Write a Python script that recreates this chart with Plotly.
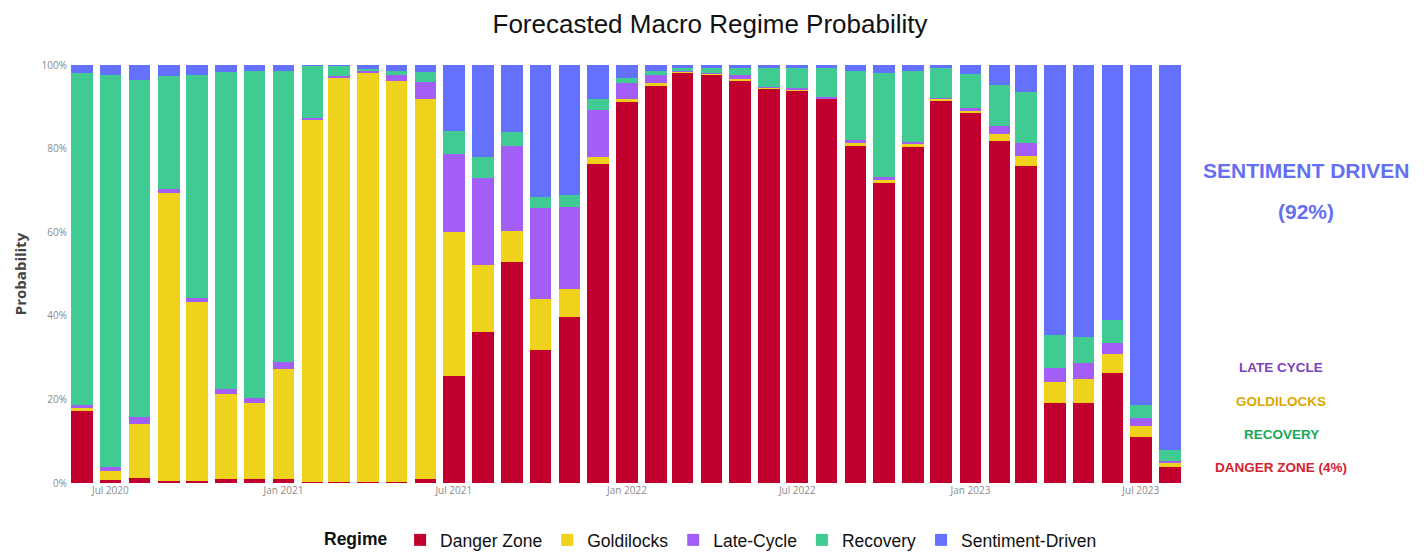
import plotly.graph_objects as go
import pandas as pd

months = pd.date_range("2020-06-01", "2023-08-01", freq="MS").strftime("%Y-%m-%d").tolist()

danger_zone = [17.2, 0.7, 1.3, 0.5, 0.5, 1.0, 1.0, 1.0, 0.2, 0.2, 0.2, 0.3, 1.0,
               25.7, 36.2, 52.9, 31.8, 39.6, 76.3, 91.1, 95.0, 98.2, 97.8, 96.4, 94.4,
               94.0, 91.9, 80.7, 71.8, 80.5, 91.6, 88.4, 81.9, 75.9, 19.2, 19.1, 26.2, 11.1, 3.9]
goldilocks = [0.8, 2.2, 12.7, 68.8, 42.7, 20.2, 18.1, 26.2, 86.6, 96.6, 98.0, 95.9, 90.8,
              34.4, 16.0, 7.4, 12.2, 6.7, 1.8, 0.8, 0.6, 0.2, 0.2, 0.2, 0.2,
              0.2, 0.2, 0.6, 0.7, 0.5, 0.4, 0.6, 1.6, 2.3, 4.9, 5.9, 4.6, 2.6, 1.0]
late_cycle = [0.6, 1.0, 1.9, 1.0, 1.0, 1.4, 1.3, 1.7, 0.6, 0.6, 0.3, 1.4, 4.2,
              18.5, 20.7, 20.4, 21.7, 19.7, 11.1, 3.7, 2.0, 0.2, 0.2, 1.0, 0.2,
              0.2, 0.2, 0.8, 0.8, 0.5, 0.2, 0.6, 1.9, 3.2, 3.3, 3.6, 2.8, 1.8, 0.4]
recovery = [79.6, 93.7, 80.5, 27.1, 53.4, 75.7, 78.1, 69.7, 12.4, 2.4, 0.5, 1.0, 2.4,
            5.5, 5.0, 3.2, 2.8, 2.9, 2.6, 1.2, 1.0, 0.6, 1.0, 1.6, 4.6,
            4.8, 7.1, 16.5, 24.9, 17.1, 7.0, 8.2, 9.8, 12.2, 8.0, 6.3, 5.4, 3.2, 2.6]
sentiment_driven = [1.8, 2.4, 3.6, 2.6, 2.4, 1.7, 1.5, 1.4, 0.2, 0.2, 1.0, 1.4, 1.6,
                    15.9, 22.1, 16.1, 31.5, 31.1, 8.2, 3.2, 1.4, 0.8, 0.8, 0.8, 0.6,
                    0.8, 0.6, 1.4, 1.8, 1.4, 0.8, 2.2, 4.8, 6.4, 64.6, 65.1, 61.0, 81.3, 92.1]

series = [
    ("Danger Zone", danger_zone, "#C2002F"),
    ("Goldilocks", goldilocks, "#EFD21B"),
    ("Late-Cycle", late_cycle, "#A45EF8"),
    ("Recovery", recovery, "#3FCB91"),
    ("Sentiment-Driven", sentiment_driven, "#6470FE"),
]

DAY_MS = 86400000
fig = go.Figure()
for name, vals, col in series:
    fig.add_trace(go.Bar(
        x=months, y=[v / 100 for v in vals], name=name,
        marker=dict(color=col, line=dict(width=0)),
        width=23.0 * DAY_MS,
    ))

# page body has an 8px margin: figure coords = screen coords - 8
W, H = 1416, 545
L, R, T, B = 60, 1177, 57, 475
PW, PH = R - L, B - T

fig.update_layout(
    barmode="stack",
    width=W, height=H,
    paper_bgcolor="white", plot_bgcolor="white",
    margin=dict(l=L, r=W - R, t=T, b=H - B, autoexpand=False),
    font=dict(family="Arial, Liberation Sans, sans-serif"),
    title=dict(text="Forecasted Macro Regime Probability", x=(710 - 8) / W, xref="container",
               y=(H - 16) / H, yref="container", yanchor="middle", xanchor="center",
               font=dict(size=26, color="#111111")),
    xaxis=dict(type="date", range=["2020-05-17", "2023-08-17"],
               tickformat="%b %Y", dtick="M6", tick0="2020-01-01",
               showgrid=False, zeroline=False, showline=False,
               tickfont=dict(size=10, color="#8a8a8a", family="Open Sans, Arial"),
               ticks="", ticklen=0),
    yaxis=dict(range=[0, 1], tickformat=".0%", dtick=0.2,
               showgrid=False, zeroline=False, showline=False,
               tickfont=dict(size=10, color="#8a8a8a", family="Open Sans, Arial"),
               title=dict(text="<b>Probability</b>", font=dict(size=15, color="#444444", family="Open Sans, Arial"),
                          standoff=11)),
    legend=dict(orientation="h", xref="paper", x=(704 - L) / PW, xanchor="center",
                y=(B - 532) / PH, yanchor="middle",
                title=dict(text="<b>Regime</b> ", font=dict(size=17.5, color="#111111")),
                font=dict(size=17.5, color="#111111"), traceorder="normal",
                tracegroupgap=0, itemwidth=30),
    bargap=0.2,
)

def add_label(text, x_px, y_px, color, size):
    fig.add_annotation(
        text="<b>" + text + "</b>", xref="paper", yref="paper",
        x=(x_px - L) / PW, y=(B - y_px) / PH, xanchor="center", yanchor="middle",
        showarrow=False,
        font=dict(size=size, color=color, family="Arial, Liberation Sans"),
    )

add_label("SENTIMENT DRIVEN", 1298, 162, "#6470F0", 21)
add_label("(92%)", 1298, 203, "#6470F0", 21)
add_label("LATE CYCLE", 1273, 359, "#7A3FC0", 13.5)
add_label("GOLDILOCKS", 1273, 393, "#DBA800", 13.5)
add_label("RECOVERY", 1273, 426, "#19A956", 13.5)
add_label("DANGER ZONE (4%)", 1273, 459, "#D6222E", 13.5)

fig.write_html("out.html")
